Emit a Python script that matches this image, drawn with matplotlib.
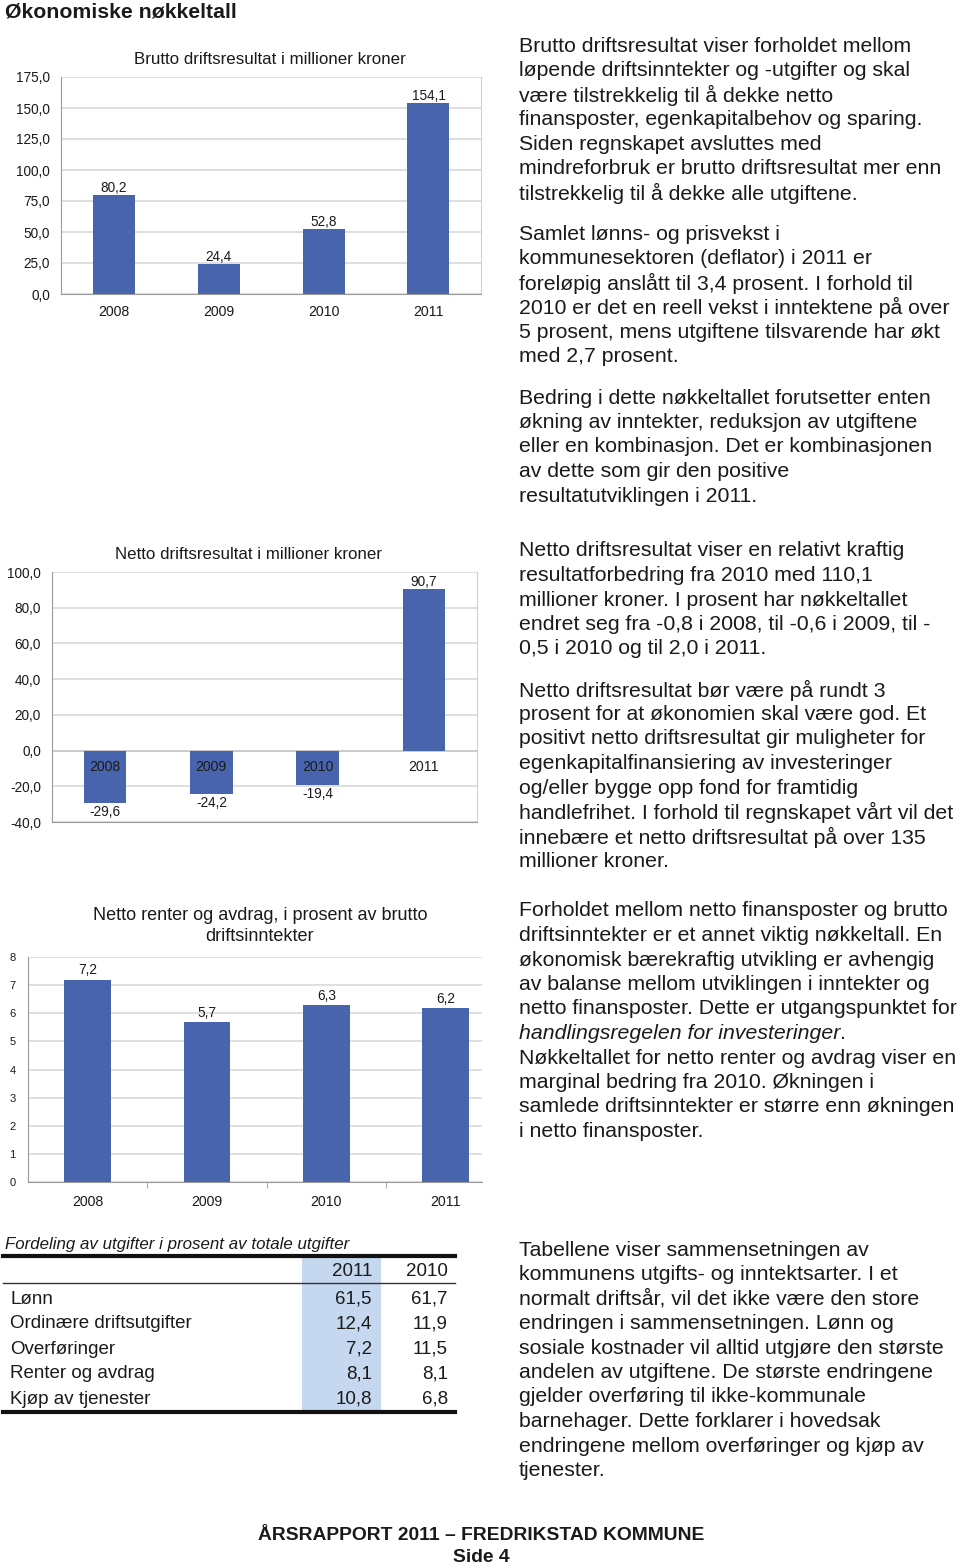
import matplotlib
matplotlib.use("Agg")
import matplotlib.pyplot as plt

plt.rcParams['font.family'] = ['Liberation Sans', 'DejaVu Sans']

W, H = 960, 1568
DPI = 100

years = ['2008', '2009', '2010', '2011']
brutto = [80.2, 24.4, 52.8, 154.1]
netto = [-29.6, -24.2, -19.4, 90.7]
renter = [7.2, 5.7, 6.3, 6.2]

brutto_ticks = [0, 25, 50, 75, 100, 125, 150, 175]
netto_ticks = [-40, -20, 0, 20, 40, 60, 80, 100]
renter_ticks = [0, 1, 2, 3, 4, 5, 6, 7, 8]

table_title = "Fordeling av utgifter i prosent av totale utgifter"
table_cols = ['2011', '2010']
table_rows = ['Lønn', 'Ordinære driftsutgifter', 'Overføringer', 'Renter og avdrag', 'Kjøp av tjenester']
table_2011 = [61.5, 12.4, 7.2, 8.1, 10.8]
table_2010 = [61.7, 11.9, 11.5, 8.1, 6.8]

BLUE = '#4764ad'
GRID = '#d9d9d9'
SPINE = '#9a9a9a'
TXT = '#1a1a1a'

fig = plt.figure(figsize=(W / DPI, H / DPI), dpi=DPI)


def ax_px(l, t, r, b):
    return fig.add_axes([l / W, 1 - b / H, (r - l) / W, (b - t) / H])


def fx(x):
    return x / W


def fy(y):
    return 1 - y / H


def nfmt(v, d=1):
    return f"{v:.{d}f}".replace('.', ',')


def style_axes(ax, ticks, dec, tick_fs, pad=8):
    ax.set_yticks(ticks)
    ax.set_yticklabels([nfmt(t, dec) for t in ticks], fontsize=tick_fs, color=TXT)
    ax.tick_params(axis='y', length=0, pad=pad)
    ax.grid(axis='y', color=GRID, linewidth=1.2)
    ax.set_axisbelow(True)
    for s in ['top', 'right']:
        ax.spines[s].set_color('#d0d0d0')
    for s in ['left', 'bottom']:
        ax.spines[s].set_color(SPINE)
    ax.spines['top'].set_visible(False)


# Header
fig.text(fx(5), fy(12), "Økonomiske nøkkeltall", fontsize=15.3, fontweight='bold',
         va='center', ha='left', color=TXT)

TICK_FS = 9.8
LAB_FS = 9.8
CAT_FS = 10.2
TITLE_FS = 12.2

# ---------- Chart 1 ----------
ax1 = ax_px(61, 77, 481, 294)
x = range(len(years))
ax1.bar(x, brutto, width=0.4, color=BLUE, zorder=3)
ax1.set_xlim(-0.5, 3.5)
ax1.set_ylim(0, 175)
style_axes(ax1, brutto_ticks, 1, TICK_FS)
ax1.set_xticks(list(x))
ax1.set_xticklabels(years, fontsize=CAT_FS, color=TXT)
ax1.tick_params(axis='x', length=0, pad=8)
for i, v in enumerate(brutto):
    ax1.annotate(nfmt(v), (i, v), xytext=(0, 0), textcoords='offset pixels',
                 ha='center', va='bottom', fontsize=LAB_FS, color=TXT)
fig.text(fx(270), fy(60), "Brutto driftsresultat i millioner kroner", fontsize=TITLE_FS,
         ha='center', va='center', color=TXT)

# ---------- Chart 2 ----------
ax2 = ax_px(52, 572, 477, 822)
ax2.bar(x, netto, width=0.4, color=BLUE, zorder=3)
ax2.set_xlim(-0.5, 3.5)
ax2.set_ylim(-40, 100)
style_axes(ax2, netto_ticks, 1, TICK_FS)
ax2.set_xticks([])
ax2.axhline(0, color='#c8c8c8', linewidth=1.2, zorder=2)
for i, v in enumerate(netto):
    ax2.annotate(years[i], (i, 0), xytext=(0, -16), textcoords='offset pixels',
                 ha='center', va='center', fontsize=CAT_FS, color=TXT, zorder=5)
    if v >= 0:
        ax2.annotate(nfmt(v), (i, v), xytext=(0, 0), textcoords='offset pixels',
                     ha='center', va='bottom', fontsize=LAB_FS, color=TXT)
    else:
        ax2.annotate(nfmt(v), (i, v), xytext=(0, -2), textcoords='offset pixels',
                     ha='center', va='top', fontsize=LAB_FS, color=TXT)
fig.text(fx(248), fy(554), "Netto driftsresultat i millioner kroner", fontsize=TITLE_FS,
         ha='center', va='center', color=TXT)

# ---------- Chart 3 ----------
ax3 = ax_px(28, 957, 482, 1182)
ax3.bar(x, renter, width=0.39, color=BLUE, zorder=3)
ax3.set_xlim(-0.5, 3.305)
ax3.set_ylim(0, 8)
style_axes(ax3, renter_ticks, 0, 8, pad=9)
ax3.spines['right'].set_visible(False)
ax3.set_xticks(list(x))
ax3.set_xticklabels(years, fontsize=CAT_FS, color=TXT)
ax3.set_xticks([0.5, 1.5, 2.5], minor=True)
ax3.tick_params(axis='x', which='major', length=0, pad=9)
ax3.tick_params(axis='x', which='minor', length=4, color=SPINE)
for i, v in enumerate(renter):
    ax3.annotate(nfmt(v), (i, v), xytext=(0, 2), textcoords='offset pixels',
                 ha='center', va='bottom', fontsize=LAB_FS, color=TXT)
fig.text(fx(260), fy(915), "Netto renter og avdrag, i prosent av brutto", fontsize=13,
         ha='center', va='center', color=TXT)
fig.text(fx(260), fy(936), "driftsinntekter", fontsize=13,
         ha='center', va='center', color=TXT)

# ---------- Table ----------
tax = ax_px(0, 1230, 470, 1420)
tax.set_xlim(0, 470)
tax.set_ylim(1420, 1230)
tax.axis('off')
tax.text(5, 1245, table_title, fontsize=12.2, fontstyle='italic', ha='left', va='center', color=TXT)
tax.add_patch(plt.Rectangle((302, 1256), 79, 156, color='#c5d8ef', zorder=0, linewidth=0))
tax.plot([3, 455], [1256, 1256], color='#111111', linewidth=3)
tax.plot([3, 455], [1283, 1283], color='#333333', linewidth=1)
tax.plot([3, 455], [1412, 1412], color='#111111', linewidth=3)
tax.text(372, 1272, table_cols[0], fontsize=13.5, ha='right', va='center', color=TXT)
tax.text(448, 1272, table_cols[1], fontsize=13.5, ha='right', va='center', color=TXT)
row_y0, row_dy = 1299, 25
for k, name in enumerate(table_rows):
    yy = row_y0 + k * row_dy
    tax.text(10, yy, name, fontsize=13.5, ha='left', va='center', color=TXT)
    tax.text(372, yy, nfmt(table_2011[k]), fontsize=13.5, ha='right', va='center', color=TXT)
    tax.text(448, yy, nfmt(table_2010[k]), fontsize=13.5, ha='right', va='center', color=TXT)

# ---------- Right column text ----------
paras = [
    (46, ["Brutto driftsresultat viser forholdet mellom",
          "løpende driftsinntekter og -utgifter og skal",
          "være tilstrekkelig til å dekke netto",
          "finansposter, egenkapitalbehov og sparing.",
          "Siden regnskapet avsluttes med",
          "mindreforbruk er brutto driftsresultat mer enn",
          "tilstrekkelig til å dekke alle utgiftene."]),
    (234, ["Samlet lønns- og prisvekst i",
           "kommunesektoren (deflator) i 2011 er",
           "foreløpig anslått til 3,4 prosent. I forhold til",
           "2010 er det en reell vekst i inntektene på over",
           "5 prosent, mens utgiftene tilsvarende har økt",
           "med 2,7 prosent."]),
    (398, ["Bedring i dette nøkkeltallet forutsetter enten",
           "økning av inntekter, reduksjon av utgiftene",
           "eller en kombinasjon. Det er kombinasjonen",
           "av dette som gir den positive",
           "resultatutviklingen i 2011."]),
    (551, ["Netto driftsresultat viser en relativt kraftig",
           "resultatforbedring fra 2010 med 110,1",
           "millioner kroner. I prosent har nøkkeltallet",
           "endret seg fra -0,8 i 2008, til -0,6 i 2009, til -",
           "0,5 i 2010 og til 2,0 i 2011."]),
    (690, ["Netto driftsresultat bør være på rundt 3",
           "prosent for at økonomien skal være god. Et",
           "positivt netto driftsresultat gir muligheter for",
           "egenkapitalfinansiering av investeringer",
           "og/eller bygge opp fond for framtidig",
           "handlefrihet. I forhold til regnskapet vårt vil det",
           "innebære et netto driftsresultat på over 135",
           "millioner kroner."]),
    (911, ["Forholdet mellom netto finansposter og brutto",
           "driftsinntekter er et annet viktig nøkkeltall. En",
           "økonomisk bærekraftig utvikling er avhengig",
           "av balanse mellom utviklingen i inntekter og",
           "netto finansposter. Dette er utgangspunktet for",
           None,
           "Nøkkeltallet for netto renter og avdrag viser en",
           "marginal bedring fra 2010. Økningen i",
           "samlede driftsinntekter er større enn økningen",
           "i netto finansposter."]),
    (1250, ["Tabellene viser sammensetningen av",
            "kommunens utgifts- og inntektsarter. I et",
            "normalt driftsår, vil det ikke være den store",
            "endringen i sammensetningen. Lønn og",
            "sosiale kostnader vil alltid utgjøre den største",
            "andelen av utgiftene. De største endringene",
            "gjelder overføring til ikke-kommunale",
            "barnehager. Dette forklarer i hovedsak",
            "endringene mellom overføringer og kjøp av",
            "tjenester."]),
]
LS = 24.5
FS = 15.3
renderer = fig.canvas.get_renderer()
for y0, lines in paras:
    for j, line in enumerate(lines):
        yy = y0 + j * LS
        if line is None:
            t = fig.text(fx(519), fy(yy), "handlingsregelen for investeringer", fontsize=FS,
                         fontstyle='italic', ha='left', va='center', color=TXT)
            bb = t.get_window_extent(renderer)
            fig.text(bb.x1 / W, fy(yy), ".", fontsize=FS, ha='left', va='center', color=TXT)
        else:
            fig.text(fx(519), fy(yy), line, fontsize=FS, ha='left', va='center', color=TXT)

# Footer
fig.text(fx(481), fy(1536), "ÅRSRAPPORT 2011 – FREDRIKSTAD KOMMUNE", fontsize=13.9,
         fontweight='bold', ha='center', va='center', color=TXT)
fig.text(fx(481), fy(1558), "Side 4", fontsize=13.9, fontweight='bold',
         ha='center', va='center', color=TXT)

fig.savefig("out.png", dpi=DPI, facecolor='white')
